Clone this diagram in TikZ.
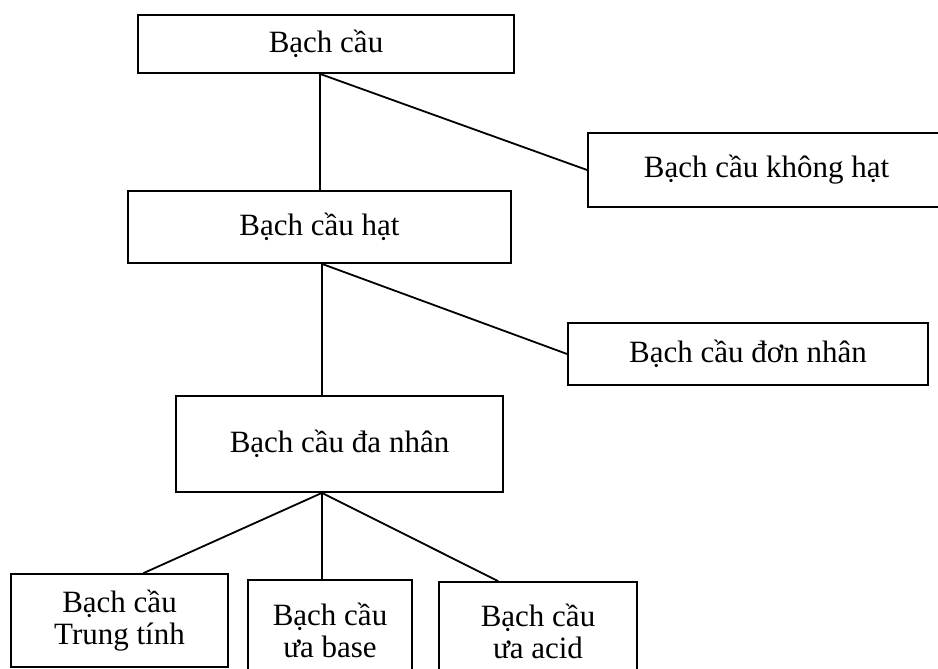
\documentclass[tikz,border=0pt]{standalone}
\usepackage{fontspec}
\setmainfont{Liberation Serif}
\usetikzlibrary{calc}
\begin{document}
\begin{tikzpicture}[x=1pt,y=-1pt,
  box/.style={draw,line width=1.8pt,rectangle,inner sep=0pt,align=center,
    font=\fontsize{31}{36}\selectfont},
  conn/.style={line width=1.8pt}]
\useasboundingbox[fill=white] (0,0) rectangle (938,669);
\node[box,minimum width=376pt,minimum height=58pt] (root) at (326,44) {Bạch cầu};
\node[box,minimum width=357pt,minimum height=74pt] (khong) at (766.5,170) {Bạch cầu không hạt};
\node[box,minimum width=383pt,minimum height=72pt] (hat) at (319.5,227) {Bạch cầu hạt};
\node[box,minimum width=360pt,minimum height=62pt] (don) at (748,354) {Bạch cầu đơn nhân};
\node[box,minimum width=327pt,minimum height=96pt] (da) at (339.5,444) {Bạch cầu đa nhân};
\node[box,minimum width=217pt,minimum height=93pt] (trung) at (119.5,620.5) {Bạch cầu\\[-4pt]Trung tính};
\node[box,minimum width=164pt,minimum height=100pt] (base) at (330,630) {Bạch cầu\\[-4pt]ưa base};
\node[box,minimum width=198pt,minimum height=98pt] (acid) at (538,631) {Bạch cầu\\[-4pt]ưa acid};
\coordinate (hn) at ($(hat.north)+(0.5,0)$);
\coordinate (r) at (hn |- root.south);
\coordinate (h) at ($(hat.south)+(2.5,0)$);
\coordinate (d) at (h |- da.south);
\draw[conn] (r) -- (hn);
\draw[conn] (r) -- (khong.west);
\draw[conn] (h) -- (h |- da.north);
\draw[conn] (h) -- (don.west);
\draw[conn] (d) -- ($(trung.north)+(24,0)$);
\draw[conn] (d) -- (d |- base.north);
\draw[conn] (d) -- ($(acid.north west)+(60,0)$);
\end{tikzpicture}
\end{document}
